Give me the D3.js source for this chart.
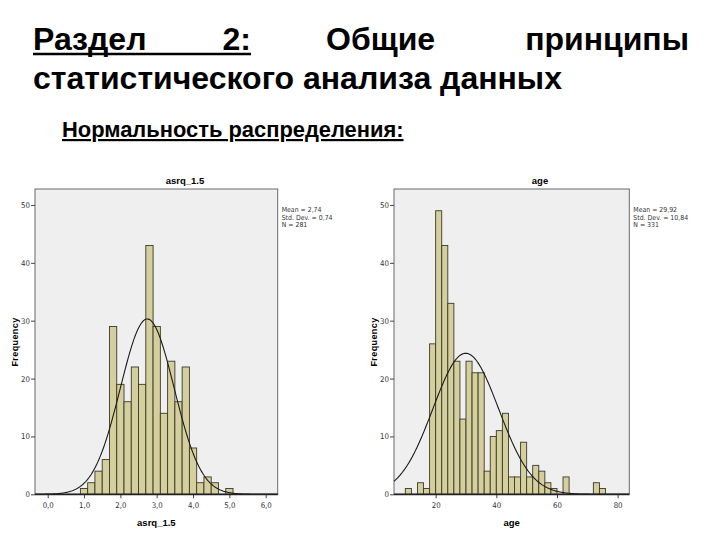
<!DOCTYPE html>
<html><head><meta charset="utf-8">
<script src="https://cdn.jsdelivr.net/npm/d3@7"></script>
<style>
html,body{margin:0;padding:0;background:#fff;}
svg{display:block;}
</style></head>
<body>
<svg id="c" width="720" height="540"></svg>
<script>
// ---- Data ----
const headingWords = ["Раздел", "2:", "Общие", "принципы"];
const headingLine2 = "статистического анализа данных";
const subHeading = "Нормальность распределения:";

const asrqCenters = [1.0,1.2,1.4,1.6,1.8,2.0,2.2,2.4,2.6,2.8,3.0,3.2,3.4,3.6,3.8,4.0,4.2,4.4,4.6,4.8,5.0];
const asrqCounts  = [1,  2,  4,  6,  29, 19, 16, 22, 19, 43, 29, 14, 23, 16, 22, 8,  2,  3,  2,  0,  1];
const asrqBinWidth = 0.2;
const asrqXTicks = [0,1,2,3,4,5,6];
const asrqStats = {mean: 2.74, sd: 0.74, n: 281};
const asrqStatLabels = ["Mean = 2,74", "Std. Dev. = 0,74", "N = 281"];

const ageStarts = [10,12,14,16,18,20,22,24,26,28,30,32,34,36,38,40,42,44,46,48,50,52,54,56,58,60,62,64,66,68,70,72,74];
const ageCounts = [1, 0, 2, 1, 26,49,43,33,23,13,23,21,21,4, 10,11,14,3, 3, 9, 3, 5, 4, 2, 1, 0, 3, 0, 0, 0, 0, 2, 1];
const ageBinWidth = 2;
const ageXTicks = [20,40,60,80];
const ageStats = {mean: 29.92, sd: 10.84, n: 331};
const ageStatLabels = ["Mean = 29,92", "Std. Dev. = 10,84", "N = 331"];

const yTicks = [0,10,20,30,40,50];

// ---- Drawing ----
const svg = d3.select("#c");
const hFont = "'Liberation Sans', Arial, sans-serif";
const nFont = "'Liberation Sans Narrow', 'DejaVu Sans Condensed', 'Liberation Sans', Arial, sans-serif";

// Heading line 1 (justified)
const h1 = svg.append("g").attr("font-family", hFont).attr("font-weight", "bold").attr("font-size", 32).attr("fill", "#000");
const wordX = [33, 251, 326, 689];
const wordAnchor = ["start", "end", "start", "end"];
headingWords.forEach((w, i) => {
  h1.append("text").attr("x", wordX[i]).attr("y", 50).attr("text-anchor", wordAnchor[i]).text(w);
});
h1.append("line").attr("x1", 33).attr("x2", 251).attr("y1", 54).attr("y2", 54).attr("stroke", "#000").attr("stroke-width", 2.4);
h1.append("text").attr("x", 33).attr("y", 89).text(headingLine2);

// Sub heading
svg.append("text").attr("x", 62).attr("y", 137).attr("font-family", hFont).attr("font-weight", "bold")
  .attr("font-size", 21.9).attr("text-decoration", "underline").text(subHeading);

function drawHist(cfg) {
  const g = svg.append("g");
  const x = d3.scaleLinear().domain(cfg.xDomain).range([cfg.left, cfg.right]);
  const y = d3.scaleLinear().domain([0, 52.76]).range([cfg.bottom, cfg.top]);

  g.append("rect").attr("x", cfg.left).attr("y", cfg.top).attr("width", cfg.right - cfg.left).attr("height", cfg.bottom - cfg.top)
    .attr("fill", "#efefef").attr("stroke", "#6a6a6a").attr("stroke-width", 1);

  g.selectAll("rect.bar").data(cfg.bins.filter(d => d.c > 0)).enter().append("rect").attr("class", "bar")
    .attr("x", d => x(d.x0)).attr("width", d => x(d.x1) - x(d.x0))
    .attr("y", d => y(d.c)).attr("height", d => y(0) - y(d.c))
    .attr("fill", "#d4cf9c").attr("stroke", "#3a3a2a").attr("stroke-width", 0.9);

  // normal curve
  const {mean, sd, n} = cfg.stats;
  const pts = d3.range(0, 301).map(i => {
    const xv = cfg.xDomain[0] + (cfg.xDomain[1] - cfg.xDomain[0]) * i / 300;
    const z = (xv - mean) / sd;
    return [xv, n * cfg.bw * Math.exp(-0.5 * z * z) / (sd * Math.sqrt(2 * Math.PI))];
  });
  g.append("path").datum(pts).attr("fill", "none").attr("stroke", "#1a1a1a").attr("stroke-width", 1.1)
    .attr("d", d3.line().x(d => x(d[0])).y(d => y(d[1])));

  // y axis
  const ya = g.append("g").attr("transform", `translate(${cfg.left},0)`)
    .call(d3.axisLeft(y).tickValues(yTicks).tickSize(4).tickPadding(1));
  ya.select(".domain").remove();
  ya.selectAll("line").attr("stroke", "#444");
  ya.selectAll("text").attr("font-family", nFont).attr("font-size", 7.8).attr("fill", "#333");

  // x axis
  const xa = g.append("g").attr("transform", `translate(0,${cfg.bottom})`)
    .call(d3.axisBottom(x).tickValues(cfg.xTicks).tickSize(4).tickPadding(4).tickFormat(cfg.fmt));
  xa.select(".domain").remove();
  xa.selectAll("line").attr("stroke", "#444");
  xa.selectAll("text").attr("font-family", nFont).attr("font-size", 7.8).attr("fill", "#333");
  g.append("line").attr("x1", cfg.left).attr("x2", cfg.right).attr("y1", cfg.bottom).attr("y2", cfg.bottom)
    .attr("stroke", "#222").attr("stroke-width", 1.8);

  // titles
  g.append("text").attr("x", cfg.titleX).attr("y", 184).attr("text-anchor", "middle")
    .attr("font-family", hFont).attr("font-weight", "bold").attr("font-size", 9.5).text(cfg.name);
  g.append("text").attr("x", (cfg.left + cfg.right) / 2).attr("y", 526).attr("text-anchor", "middle")
    .attr("font-family", hFont).attr("font-weight", "bold").attr("font-size", 9.5).text(cfg.name);
  g.append("text").attr("transform", `translate(${cfg.yTitleX},342) rotate(-90)`).attr("text-anchor", "middle")
    .attr("font-family", hFont).attr("font-weight", "bold").attr("font-size", 9).attr("letter-spacing", 0.4).text("Frequency");

  // stats
  cfg.statLabels.forEach((s, i) => {
    g.append("text").attr("x", cfg.right + 4).attr("y", 212 + i * 7.7).attr("font-family", nFont)
      .attr("font-size", 6.9).attr("fill", "#333").text(s);
  });
}

const fmtComma = d => d3.format(".1f")(d).replace(".", ",");

drawHist({
  name: "asrq_1.5", left: 35, right: 277.7, top: 189, bottom: 494.3, xDomain: [-0.35, 6.33],
  bins: asrqCenters.map((c, i) => ({x0: c - asrqBinWidth / 2, x1: c + asrqBinWidth / 2, c: asrqCounts[i]})),
  bw: asrqBinWidth, stats: asrqStats, statLabels: asrqStatLabels, xTicks: asrqXTicks, fmt: fmtComma,
  titleX: 185, yTitleX: 18
});
drawHist({
  name: "age", left: 394, right: 629.3, top: 189, bottom: 494.3, xDomain: [6.26, 83.85],
  bins: ageStarts.map((s, i) => ({x0: s, x1: s + ageBinWidth, c: ageCounts[i]})),
  bw: ageBinWidth, stats: ageStats, statLabels: ageStatLabels, xTicks: ageXTicks, fmt: d3.format("d"),
  titleX: 540, yTitleX: 377
});
</script>
</body></html>
